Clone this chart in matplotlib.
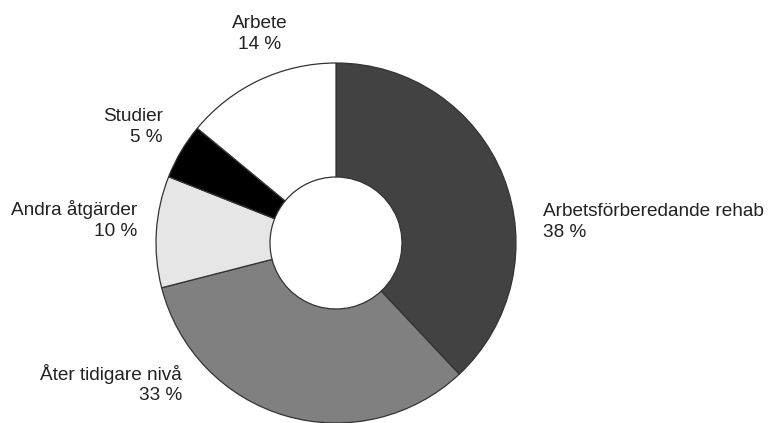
import numpy as np
import matplotlib
matplotlib.use('Agg')
import matplotlib.pyplot as plt

plt.rcParams['font.family'] = ['Liberation Sans', 'DejaVu Sans']

# data
categories = ['Arbetsförberedande rehab', 'Åter tidigare nivå', 'Andra åtgärder', 'Studier', 'Arbete']
shares = [38, 33, 10, 5, 14]
colors = ['#424242', '#808080', '#e6e6e6', '#000000', '#ffffff']

# label layout (pixel coords from top-left, alignment)
labelPos = [(543, 222, 'left'), (182, 384, 'right'), (137, 220, 'right'),
            (163, 127, 'right'), (260, 34, 'center')]

W, H = 769, 423
fig = plt.figure(figsize=(W / 100, H / 100), dpi=100)
ax = fig.add_axes([0, 0, 1, 1])

cx, cy = 336, 243
rOut, rIn = 180, 66
ax.pie(shares, colors=colors, startangle=90, counterclock=False,
       center=(cx, H - cy), radius=rOut,
       wedgeprops=dict(width=rOut - rIn, edgecolor='#333333', linewidth=0.9))

for name, val, (x, y, ha) in zip(categories, shares, labelPos):
    ax.text(x, H - y, '%s\n%d %%' % (name, val), ha=ha, va='center',
            multialignment=ha, fontsize=13.7, color='#222222', linespacing=1.28)

ax.set_xlim(0, W)
ax.set_ylim(0, H)
ax.set_aspect('equal')
ax.axis('off')

fig.savefig('out.png', dpi=100)
